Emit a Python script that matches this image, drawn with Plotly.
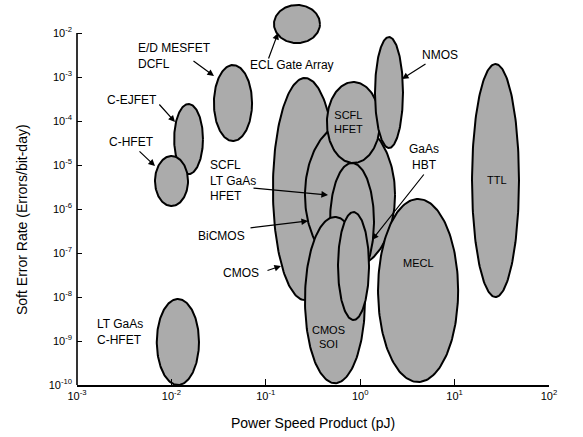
import numpy as np
import plotly.graph_objects as go

# ---- data: extents of each technology region (pJ, errors/bit-day) ----
tech = ["CMOS", "BiCMOS", "SCFL HFET", "NMOS", "SCFL LT GaAs HFET", "CMOS SOI",
        "GaAs HBT", "MECL", "TTL", "ECL Gate Array", "E/D MESFET DCFL",
        "C-EJFET", "C-HFET", "LT GaAs C-HFET"]
x_low = [0.119, 0.26, 0.444, 1.435, 0.479, 0.26, 0.582, 1.545, 15.3, 0.122, 0.0282, 0.0107, 0.0067, 0.0070]
x_high = [0.567, 2.34, 1.62, 2.84, 1.40, 1.125, 1.24, 10.9, 48.1, 0.375, 0.0715, 0.0216, 0.015, 0.0196]
y_low = [8.5e-9, 4.6e-8, 1.11e-5, 2.43e-5, 2.43e-8, 1.1e-10, 3.0e-9, 1.17e-10, 1.0e-8, 5.9e-3, 3.5e-5, 6.2e-6, 1.17e-6, 1.0e-10]
y_high = [9.5e-4, 9.5e-5, 7.7e-4, 8.1e-3, 1.11e-5, 6.6e-7, 8.5e-7, 1.69e-6, 1.97e-3, 4.33e-2, 1.87e-3, 2.43e-4, 1.6e-5, 9.0e-9]

x_ticks = [1e-3, 1e-2, 1e-1, 1e0, 1e1, 1e2]
x_tick_text = ["10<sup>-3</sup>", "10<sup>-2</sup>", "10<sup>-1</sup>", "10<sup>0</sup>", "10<sup>1</sup>", "10<sup>2</sup>"]
y_ticks = [1e-10, 1e-9, 1e-8, 1e-7, 1e-6, 1e-5, 1e-4, 1e-3, 1e-2]
y_tick_text = ["10<sup>-10</sup>", "10<sup>-9</sup>", "10<sup>-8</sup>", "10<sup>-7</sup>", "10<sup>-6</sup>",
               "10<sup>-5</sup>", "10<sup>-4</sup>", "10<sup>-3</sup>", "10<sup>-2</sup>"]

label_text = ["E/D MESFET<br>DCFL", "ECL Gate Array", "NMOS", "C-EJFET", "C-HFET",
              "SCFL<br>LT GaAs<br>HFET", "BiCMOS", "CMOS", "LT GaAs<br>C-HFET",
              "CMOS<br>SOI", "MECL", "TTL", "SCFL<br>HFET", "GaAs<br>HBT"]
x_title = "Power Speed Product (pJ)"
y_title = "Soft Error Rate (Errors/bit-day)"

FONT = "Arial, Liberation Sans, Helvetica, sans-serif"
X_RANGE = [-3, 2]
Y_RANGE = [-10, -2 + 31 / 44]

fig = go.Figure()
theta = np.linspace(0, 2 * np.pi, 181)
for name, xl, xh, yl, yh in zip(tech, x_low, x_high, y_low, y_high):
    cx, rx = (np.log10(xl) + np.log10(xh)) / 2, (np.log10(xh) - np.log10(xl)) / 2
    cy, ry = (np.log10(yl) + np.log10(yh)) / 2, (np.log10(yh) - np.log10(yl)) / 2
    fig.add_trace(go.Scatter(
        x=10 ** (cx + rx * np.cos(theta)), y=10 ** (cy + ry * np.sin(theta)),
        mode="lines", fill="toself", name=name, hoverinfo="name",
        line=dict(color="black", width=2),
        fillcolor="#b0b0b0",
        fillpattern=dict(shape=".", fgcolor="#8a8a8a", bgcolor="#c6c6c6", size=2, solidity=0.5),
        showlegend=False))

# label layout (pixel positions in the 583x437 frame), converted to data units
def px_to_data(px, py):
    return -3 + (px - 77) / 94.4, -2 - (py - 33) / 44

label_px = [
    ((136, 56), (192, 60), (214, 76), "left"),
    ((292, 65), (268, 60), (278, 33), "center"),
    ((440, 55), (427, 63), (402, 79), "center"),
    ((132, 100), (158, 103), (175, 122), "center"),
    ((131, 142), (138, 150), (155, 166), "center"),
    ((208, 180), (252, 188), (328, 195), "left"),
    ((221, 236), (249, 228), (308, 221), "center"),
    ((241, 273), (266, 271), (281, 266), "center"),
    ((95, 332), None, None, "left"),
    ((328, 337), None, None, "center"),
    ((418, 263), None, None, "center"),
    ((497, 180), None, None, "center"),
    ((348, 122), None, None, "center"),
    ((424, 157), (425, 173), (372, 240), "center"),
]

annotations = []
for text, (pos, tail, head, anchor) in zip(label_text, label_px):
    tx, ty = px_to_data(*pos)
    inside = text in ("CMOS<br>SOI", "MECL", "TTL", "SCFL<br>HFET")
    annotations.append(dict(
        x=tx, y=ty, xref="x", yref="y", text=text, showarrow=False,
        xanchor=anchor, yanchor="middle", align=anchor,
        font=dict(family=FONT, size=11 if inside else 12, color="black")))
    if tail is not None:
        hx, hy = px_to_data(*head)
        ax, ay = px_to_data(*tail)
        annotations.append(dict(
            x=hx, y=hy, ax=ax, ay=ay,
            xref="x", yref="y", axref="x", ayref="y", text="", showarrow=True,
            arrowhead=2, arrowsize=1.1, arrowwidth=1.2, arrowcolor="black", standoff=0))

# axis titles
annotations.append(dict(x=0.5, y=0, xref="paper", yref="paper", yshift=-38, text=x_title,
                        showarrow=False, xanchor="center", yanchor="middle",
                        font=dict(family=FONT, size=14, color="black")))
annotations.append(dict(x=0, y=(385 - 220) / 383, xref="paper", yref="paper", xshift=-55, text=y_title,
                        showarrow=False, xanchor="center", yanchor="middle", textangle=-90,
                        font=dict(family=FONT, size=14, color="black")))

y_top_frac = (np.log10(y_ticks[-1]) - Y_RANGE[0]) / (Y_RANGE[1] - Y_RANGE[0])

fig.update_layout(
    template="none",
    width=583, height=437,
    margin=dict(l=77, r=34, t=2, b=52),
    paper_bgcolor="white", plot_bgcolor="white",
    font=dict(family=FONT, color="black"),
    annotations=annotations,
    shapes=[dict(type="line", xref="paper", yref="paper", x0=0, x1=0, y0=0, y1=y_top_frac,
                 line=dict(color="black", width=1.6))],
    xaxis=dict(type="log", range=X_RANGE, tickvals=x_ticks, ticktext=x_tick_text,
               ticks="inside", ticklen=6, tickwidth=1.2, tickcolor="black",
               showline=True, linecolor="black", linewidth=1.6, showgrid=False, zeroline=False,
               automargin=False, tickfont=dict(size=11, family=FONT, color="black")),
    yaxis=dict(type="log", range=Y_RANGE, tickvals=y_ticks, ticktext=y_tick_text,
               ticks="inside", ticklen=5, tickwidth=1.2, tickcolor="black",
               showline=False, showgrid=False, zeroline=False, automargin=False,
               tickfont=dict(size=11, family=FONT, color="black"), ticklabelstandoff=4),
)

fig.write_html("out.html", config={"displayModeBar": False},
               post_script="document.body.style.margin='0';document.body.style.padding='0';")
